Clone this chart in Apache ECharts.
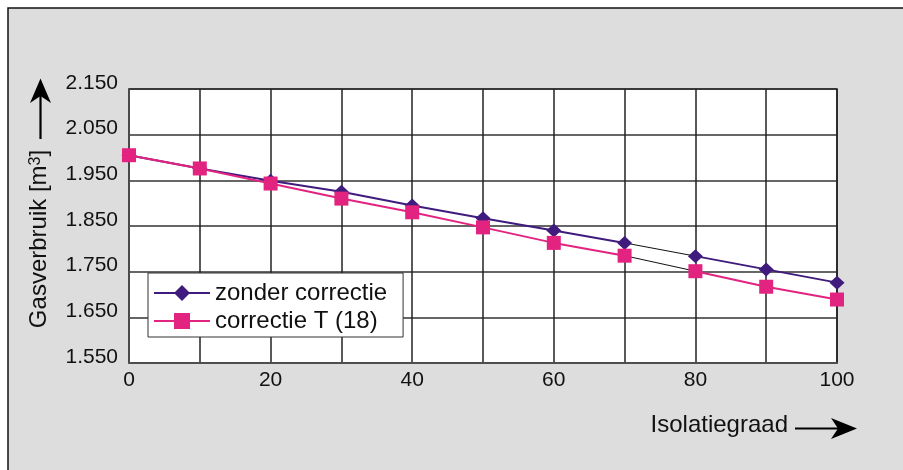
<!DOCTYPE html>
<html>
<head>
<meta charset="utf-8">
<script src="https://cdn.jsdelivr.net/npm/echarts@6/dist/echarts.min.js"></script>
<style>
  html, body { margin: 0; padding: 0; background: #ffffff; }
  #chart { width: 903px; height: 470px; }
</style>
</head>
<body>
<div id="chart"></div>
<script>
// Isolation degree (%) on the horizontal axis
const isolatie = [0, 10, 20, 30, 40, 50, 60, 70, 80, 90, 100];
// Gas consumption in m³
const zonderCorrectie = [2005, 1976, 1949, 1925, 1895, 1867, 1840, 1813, 1784, 1755, 1726];
const correctieT18    = [2005, 1976, 1943, 1910, 1880, 1847, 1813, 1785, 1751, 1717, 1689];
const seriesNames = ['zonder correctie', 'correctie T (18)'];
const xTickLabels = ['0', '20', '40', '60', '80', '100'];
const yTicks = [1550, 1650, 1750, 1850, 1950, 2050, 2150];
const yTickLabels = ['1.550', '1.650', '1.750', '1.850', '1.950', '2.050', '2.150'];

const FONT = "'Liberation Sans', Arial, Helvetica, sans-serif";
const PURPLE = '#3f1b7d';
const PINK = '#e2237f';

// the 70 -> 80 stretch of both curves is drawn as a thin black connector
const SPLIT = 7;

function pairs(values) {
  return isolatie.map((x, i) => [x, values[i]]);
}

function curve(name, values, color, symbol, symbolSize, z) {
  const pts = pairs(values);
  const base = {
    type: 'line',
    name: name,
    symbol: symbol,
    symbolSize: symbolSize,
    showSymbol: true,
    itemStyle: { color: color },
    lineStyle: { color: color, width: 2 },
    z: z,
    animation: false
  };
  return [
    Object.assign({}, base, { data: pts.slice(0, SPLIT + 1) }),
    Object.assign({}, base, { data: pts.slice(SPLIT + 1) }),
    {
      type: 'line',
      name: name + ' verbinding',
      data: pts.slice(SPLIT, SPLIT + 2),
      symbol: 'none',
      lineStyle: { color: '#111111', width: 1 },
      z: z - 1,
      silent: true,
      animation: false
    }
  ];
}

const chart = echarts.init(document.getElementById('chart'), null, { renderer: 'canvas' });

chart.setOption({
  animation: false,
  backgroundColor: '#ffffff',
  textStyle: { fontFamily: FONT },
  graphic: [
    {
      type: 'rect',
      z: -10,
      shape: { x: 8, y: 8, width: 905, height: 475 },
      style: { fill: '#dddddd', stroke: '#111111', lineWidth: 1.5 }
    },
    // vertical axis title with arrow
    {
      type: 'text',
      x: 39.5,
      y: 239,
      rotation: Math.PI / 2,
      style: {
        text: '{a|Gasverbruik [m}{s|3}{a|]}',
        align: 'center',
        verticalAlign: 'middle',
        fill: '#111111',
        rich: {
          a: { fontSize: 24, fontFamily: FONT, fill: '#111111' },
          s: { fontSize: 16, fontFamily: FONT, fill: '#111111', verticalAlign: 'top' }
        }
      }
    },
    {
      type: 'line',
      shape: { x1: 40.5, y1: 139, x2: 40.5, y2: 96 },
      style: { stroke: '#000000', lineWidth: 2.2 }
    },
    {
      type: 'polygon',
      shape: { points: [[40.5, 78.5], [51, 103], [40.5, 96], [30, 103]] },
      style: { fill: '#000000' }
    },
    // horizontal axis title with arrow
    {
      type: 'text',
      x: 788,
      y: 425,
      style: {
        text: 'Isolatiegraad',
        align: 'right',
        verticalAlign: 'middle',
        fontSize: 24,
        fontFamily: FONT,
        fill: '#111111'
      }
    },
    {
      type: 'line',
      shape: { x1: 795, y1: 428.5, x2: 840, y2: 428.5 },
      style: { stroke: '#000000', lineWidth: 2.2 }
    },
    {
      type: 'polygon',
      shape: { points: [[857, 428.5], [831, 418], [838, 428.5], [831, 439]] },
      style: { fill: '#000000' }
    }
  ],
  grid: {
    left: 129,
    top: 89,
    width: 708,
    height: 274,
    show: true,
    backgroundColor: '#ffffff',
    borderColor: '#1a1a1a',
    borderWidth: 1.5
  },
  legend: {
    data: seriesNames,
    orient: 'vertical',
    left: 148,
    top: 273,
    backgroundColor: '#ffffff',
    borderColor: '#333333',
    borderWidth: 1,
    borderRadius: 0,
    padding: [8, 16, 4, 5],
    itemWidth: 56,
    itemHeight: 20,
    itemGap: 4,
    lineStyle: { width: 2 },
    textStyle: { fontSize: 24, fontFamily: FONT, color: '#111111' }
  },
  xAxis: {
    type: 'value',
    min: 0,
    max: 100,
    interval: 10,
    axisLine: { show: true, lineStyle: { color: '#555555', width: 1.5 } },
    axisTick: { show: false },
    axisLabel: {
      margin: 7,
      fontSize: 21,
      fontFamily: FONT,
      color: '#111111',
      formatter: v => (xTickLabels.indexOf(String(v)) >= 0 ? String(v) : '')
    },
    splitLine: { show: true, lineStyle: { color: '#222222', width: 1.5 } }
  },
  yAxis: {
    type: 'value',
    min: yTicks[0],
    max: yTicks[yTicks.length - 1],
    interval: 100,
    axisLine: { show: true, lineStyle: { color: '#555555', width: 1.5 } },
    axisTick: { show: false },
    axisLabel: {
      margin: 11,
      fontSize: 21,
      fontFamily: FONT,
      color: '#111111',
      verticalAlign: 'bottom',
      lineHeight: 12,
      formatter: v => {
        const i = yTicks.indexOf(Math.round(v));
        return i >= 0 ? yTickLabels[i] : '';
      }
    },
    splitLine: { show: true, lineStyle: { color: '#333333', width: 1.5 } }
  },
  series: [].concat(
    curve(seriesNames[0], zonderCorrectie, PURPLE, 'diamond', [15, 14], 4),
    curve(seriesNames[1], correctieT18, PINK, 'rect', 14, 6)
  )
});
</script>
</body>
</html>
